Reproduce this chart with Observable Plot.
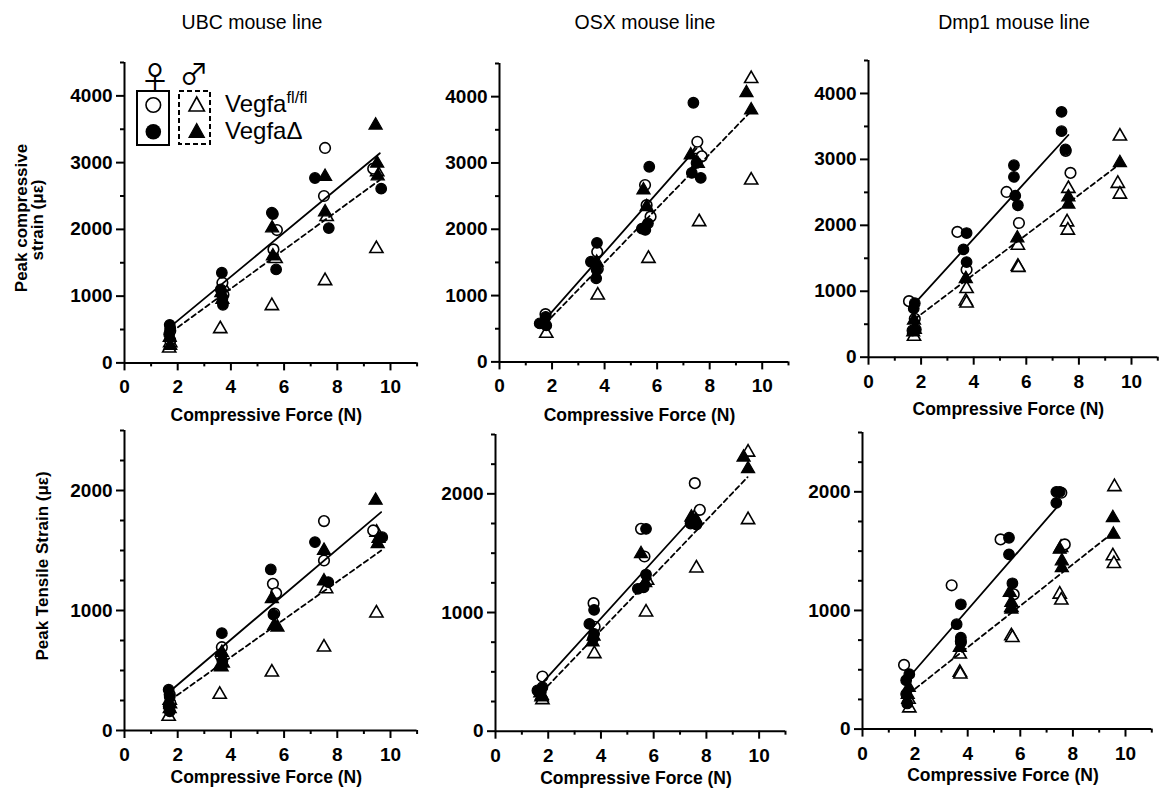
<!DOCTYPE html>
<html><head><meta charset="utf-8">
<script src="https://cdn.jsdelivr.net/npm/d3@7"></script>
<script src="https://cdn.jsdelivr.net/npm/@observablehq/plot@0.6"></script>
<style>
html,body{margin:0;padding:0;background:#fff;overflow:hidden}
#wrap{position:relative;width:1161px;height:796px;font-family:"Liberation Sans",Arial,sans-serif}
#wrap svg.pnl{position:absolute}
#overlay{position:absolute;left:0;top:0}
</style></head><body><div id="wrap"></div>
<script>
// ---------- tick labels ----------
const xTicks = [0, 2, 4, 6, 8, 10];
const xMinor = [1, 3, 5, 7, 9, 11];
const compTicks = [0, 1000, 2000, 3000, 4000];
const compMinor = [500, 1500, 2500, 3500, 4500];
const tensTicks = [0, 1000, 2000];
const tensMinor = [250, 500, 750, 1250, 1500, 1750, 2250, 2500];
const titles = ["UBC mouse line", "OSX mouse line", "Dmp1 mouse line"];

// ---------- UBC compressive ----------
const ubcCompFFl = [[1.72,480],[1.72,340],[3.68,1200],[3.72,1020],[5.73,1990],[5.6,1700],[7.54,3220],[7.5,2500],[9.35,2910]];
const ubcCompFD = [[1.7,570],[1.72,520],[1.68,430],[3.66,1350],[3.62,1100],[3.7,870],[3.68,960],[5.54,2250],[5.58,2230],[5.7,1400],[7.16,2770],[7.68,2020],[9.65,2610]];
const ubcCompMFl = [[1.68,220],[1.72,300],[3.6,510],[3.7,1150],[5.54,855],[5.68,1560],[7.6,2190],[7.54,1230],[9.5,2860],[9.47,1710]];
const ubcCompMD = [[1.7,380],[1.72,260],[3.68,950],[3.64,1050],[5.55,2020],[5.58,1600],[7.54,2790],[7.54,2260],[9.44,3560],[9.5,2990],[9.52,2800]];
const ubcCompFitF = [[1.75,550],[9.6,3140]];
const ubcCompFitM = [[1.75,460],[9.6,2740]];

// ---------- OSX compressive ----------
const osxCompFFl = [[1.75,720],[3.72,1660],[3.74,1400],[5.54,2667],[5.6,2364],[5.75,2190],[7.53,3320],[7.7,3100]];
const osxCompFD = [[1.76,680],[1.53,580],[1.78,550],[3.71,1795],[3.48,1510],[3.7,1385],[3.68,1260],[5.7,2943],[5.42,2010],[5.55,1990],[5.65,2090],[7.38,3908],[7.32,2850],[7.66,2775],[7.5,3000]];
const osxCompMFl = [[1.78,428],[3.74,1006],[5.67,1559],[7.6,2112],[7.55,3200],[9.58,4270],[9.58,2740]];
const osxCompMD = [[1.7,600],[3.7,1500],[5.48,2590],[5.6,2340],[7.28,3118],[7.55,2990],[9.4,4057],[9.58,3796]];
const osxCompFitF = [[1.75,645],[7.5,3220]];
const osxCompFitM = [[1.75,580],[9.55,3770]];

// ---------- Dmp1 compressive ----------
const dmpCompFFl = [[1.54,850],[1.76,582],[3.38,1900],[3.73,1326],[5.25,2506],[5.72,2035],[7.5,3130],[7.68,2795]];
const dmpCompFD = [[1.76,820],[1.72,740],[1.67,405],[1.8,420],[3.73,1883],[3.61,1635],[3.73,1443],[5.53,2911],[5.53,2734],[5.68,2304],[5.58,2450],[7.34,3721],[7.34,3428],[7.49,3150]];
const dmpCompMFl = [[1.73,314],[1.75,420],[3.73,1038],[3.7,850],[3.73,820],[5.68,1696],[5.68,1377],[5.7,1360],[7.6,2557],[7.55,2050],[7.58,1924],[9.56,3352],[9.48,2633],[9.56,2471]];
const dmpCompMD = [[1.73,560],[1.7,380],[3.7,1190],[5.66,1807],[7.6,2430],[7.6,2319],[9.56,2947]];
const dmpCompFitF = [[1.75,813],[7.6,3370]];
const dmpCompFitM = [[1.75,575],[9.58,2937]];

// ---------- UBC tensile ----------
const ubcTensFFl = [[1.7,300],[1.72,230],[3.66,694],[3.62,620],[5.58,1222],[5.7,1145],[5.63,975],[7.5,1745],[7.5,1417],[9.35,1667]];
const ubcTensFD = [[1.66,340],[1.7,280],[1.66,200],[1.7,160],[3.66,811],[3.68,580],[5.5,1342],[5.6,965],[7.16,1570],[7.66,1236],[9.69,1611]];
const ubcTensMFl = [[1.66,117],[1.7,250],[3.58,300],[3.64,530],[5.54,486],[7.58,1180],[7.5,694],[9.47,978],[9.48,1650]];
const ubcTensMD = [[1.7,180],[1.72,220],[3.66,650],[3.6,540],[3.7,560],[5.54,1097],[5.63,875],[5.75,860],[7.5,1500],[7.5,1245],[9.44,1917],[9.52,1556],[9.55,1600]];
const ubcTensFitF = [[1.7,325],[9.65,1820]];
const ubcTensFitM = [[1.7,250],[9.65,1500]];

// ---------- OSX tensile ----------
const osxTensFFl = [[1.78,461],[3.72,1079],[3.76,880],[5.52,1705],[5.65,1472],[7.56,2090],[7.75,1865]];
const osxTensFD = [[1.59,343],[1.78,371],[1.72,330],[3.74,1022],[3.56,904],[3.74,820],[3.7,780],[5.71,1705],[5.71,1320],[5.4,1200],[5.62,1213],[7.4,1750],[7.62,1742],[7.55,1760]];
const osxTensMFl = [[1.78,264],[1.75,290],[3.75,652],[5.71,1003],[5.75,1270],[7.62,1374],[7.55,1800],[9.58,2350],[9.58,1781]];
const osxTensMD = [[1.76,300],[1.7,320],[3.68,750],[3.72,800],[5.52,1494],[5.68,1250],[7.43,1803],[7.6,1781],[9.41,2308],[9.58,2211]];
const osxTensFitF = [[1.75,400],[7.6,1830]];
const osxTensFitM = [[1.75,327],[9.56,2140]];

// ---------- Dmp1 tensile ----------
const dmpTensFFl = [[1.58,541],[3.39,1212],[3.74,740],[5.25,1599],[5.75,1136],[7.56,1992],[7.69,1557]];
const dmpTensFD = [[1.78,463],[1.66,412],[1.66,295],[1.7,216],[3.74,1052],[3.58,884],[3.74,771],[3.74,729],[5.57,1613],[5.57,1473],[5.7,1229],[7.37,2000],[7.5,2000],[7.37,1907]];
const dmpTensMFl = [[1.78,177],[1.75,250],[3.7,631],[3.7,477],[3.72,463],[5.66,1024],[5.66,785],[5.7,771],[7.5,1136],[7.56,1086],[7.55,1530],[9.58,2042],[9.52,1459],[9.56,1394]];
const dmpTensMD = [[1.76,350],[1.72,290],[3.7,687],[5.6,1150],[5.66,1066],[5.66,1010],[7.5,1515],[7.58,1417],[7.58,1360],[9.52,1781],[9.54,1641]];
const dmpTensFitF = [[1.75,433],[7.55,1910]];
const dmpTensFitM = [[1.75,296],[9.52,1655]];

// ---------- layout ----------
const ML = 62, MR = 6, MT = 8, MB = 40;
const panels = [
  {L:124, R:416.6, T:62.3, B:362.7, ymax:4500, yT:compTicks, yM:compMinor, ffl:ubcCompFFl, fd:ubcCompFD, mfl:ubcCompMFl, md:ubcCompMD, fitF:ubcCompFitF, fitM:ubcCompFitM, xt:421},
  {L:499, R:788, T:63.3, B:361.7, ymax:4500, yT:compTicks, yM:compMinor, ffl:osxCompFFl, fd:osxCompFD, mfl:osxCompMFl, md:osxCompMD, fitF:osxCompFitF, fitM:osxCompFitM, xt:421},
  {L:867.7, R:1157, T:60, B:356.7, ymax:4500, yT:compTicks, yM:compMinor, ffl:dmpCompFFl, fd:dmpCompFD, mfl:dmpCompMFl, md:dmpCompMD, fitF:dmpCompFitF, fitM:dmpCompFitM, xt:415},
  {L:124, R:416.6, T:430, B:730, ymax:2500, yT:tensTicks, yM:tensMinor, ffl:ubcTensFFl, fd:ubcTensFD, mfl:ubcTensMFl, md:ubcTensMD, fitF:ubcTensFitF, fitM:ubcTensFitM, xt:783},
  {L:495, R:785, T:434, B:730.7, ymax:2500, yT:tensTicks, yM:tensMinor, ffl:osxTensFFl, fd:osxTensFD, mfl:osxTensMFl, md:osxTensMD, fitF:osxTensFitF, fitM:osxTensFitM, xt:783.5},
  {L:862.3, R:1151.6, T:431.7, B:728.3, ymax:2500, yT:tensTicks, yM:tensMinor, ffl:dmpTensFFl, fd:dmpTensFD, mfl:dmpTensMFl, md:dmpTensMD, fitF:dmpTensFitF, fitM:dmpTensFitM, xt:781}
];

const wrap = document.getElementById("wrap");
const px = d => d[0], py = d => d[1];

panels.forEach(c => {
  const W = (c.R - c.L) + ML + MR, H = (c.B - c.T) + MT + MB;
  const svg = Plot.plot({
    width: W, height: H,
    marginLeft: ML, marginRight: MR, marginTop: MT, marginBottom: MB,
    x: {domain: [0, 11]},
    y: {domain: [0, c.ymax]},
    style: {fontFamily: "Liberation Sans, Arial, sans-serif", fontSize: "19px", fontWeight: "bold", color: "black", background: "transparent", overflow: "visible"},
    marks: [
      Plot.axisX({ticks: xTicks, tickSize: 8, tickPadding: 9, strokeWidth: 2, label: null, tickFormat: d => String(d)}),
      Plot.axisX({ticks: xMinor, tickSize: 4, strokeWidth: 2, label: null, tickFormat: () => ""}),
      Plot.axisY({ticks: c.yT, tickSize: 8, tickPadding: 4, strokeWidth: 2, label: null, tickFormat: d => String(d)}),
      Plot.axisY({ticks: c.yM, tickSize: 4, strokeWidth: 2, label: null, tickFormat: () => ""}),
      Plot.ruleY([0], {strokeWidth: 2}),
      Plot.ruleX([0], {strokeWidth: 2}),
      Plot.dot(c.mfl, {x: px, y: py, symbol: "triangle", r: 4.9, fill: "white", stroke: "black", strokeWidth: 1.6}),
      Plot.dot(c.ffl, {x: px, y: py, symbol: "circle", r: 5.3, fill: "white", stroke: "black", strokeWidth: 1.6}),
      Plot.dot(c.md, {x: px, y: py, symbol: "triangle", r: 4.9, fill: "black", stroke: "black", strokeWidth: 1.2}),
      Plot.dot(c.fd, {x: px, y: py, symbol: "circle", r: 5.3, fill: "black", stroke: "black", strokeWidth: 1.2}),
      Plot.line(c.fitF, {x: px, y: py, stroke: "black", strokeWidth: 1.8}),
      Plot.line(c.fitM, {x: px, y: py, stroke: "black", strokeWidth: 1.8, strokeDasharray: "5,3.5"})
    ]
  });
  svg.classList.add("pnl");
  svg.style.left = (c.L - ML) + "px";
  svg.style.top = (c.T - MT) + "px";
  wrap.appendChild(svg);
});

// ---------- overlay: titles, axis labels, legend ----------
const NS = "http://www.w3.org/2000/svg";
const ov = document.createElementNS(NS, "svg");
ov.setAttribute("id", "overlay");
ov.setAttribute("width", 1161);
ov.setAttribute("height", 796);
ov.style.fontFamily = "Liberation Sans, Arial, sans-serif";
wrap.appendChild(ov);
function el(tag, attrs, text) {
  const e = document.createElementNS(NS, tag);
  for (const k in attrs) e.setAttribute(k, attrs[k]);
  if (text != null) e.textContent = text;
  ov.appendChild(e);
  return e;
}
const titleX = [252, 645, 1014];
titles.forEach((t, i) => el("text", {x: titleX[i], y: 28.5, "text-anchor": "middle", "font-size": 19.5}, t));
panels.forEach(c => {
  el("text", {x: (c.L + c.R) / 2 - 4, y: c.xt, "text-anchor": "middle", "font-size": 17.5, "font-weight": "bold"}, "Compressive Force (N)");
});
el("text", {transform: "translate(27,218) rotate(-90)", "text-anchor": "middle", "font-size": 17, "font-weight": "bold"}, "Peak compressive");
el("text", {transform: "translate(43,220) rotate(-90)", "text-anchor": "middle", "font-size": 17, "font-weight": "bold"}, "strain (με)");
el("text", {transform: "translate(48,566) rotate(-90)", "text-anchor": "middle", "font-size": 17, "font-weight": "bold"}, "Peak Tensile Strain (με)");

// legend
el("text", {x: 155, y: 88, "text-anchor": "middle", "font-size": 30, "font-family": "Noto Sans CJK JP"}, "♀");
el("text", {x: 194, y: 85, "text-anchor": "middle", "font-size": 29, "font-family": "Noto Sans CJK JP"}, "♂");
el("rect", {x: 137, y: 91, width: 32, height: 54, fill: "none", stroke: "black", "stroke-width": 2});
el("rect", {x: 179, y: 91, width: 31, height: 53, fill: "none", stroke: "black", "stroke-width": 2, "stroke-dasharray": "5,3"});
el("circle", {cx: 153.3, cy: 105, r: 7.3, fill: "white", stroke: "black", "stroke-width": 1.6});
el("circle", {cx: 153.3, cy: 131.7, r: 7.8, fill: "black"});
el("path", {d: "M196.7,97 L204.4,111 L189,111 Z", fill: "white", stroke: "black", "stroke-width": 1.6});
el("path", {d: "M196.7,123.5 L204.4,137.5 L189,137.5 Z", fill: "black", stroke: "black", "stroke-width": 1.2});
const t1 = el("text", {x: 225, y: 112, "font-size": 24});
t1.appendChild(document.createTextNode("Vegfa"));
const sup = document.createElementNS(NS, "tspan");
sup.setAttribute("font-size", 16.5); sup.setAttribute("dy", -9);
sup.textContent = "fl/fl";
t1.appendChild(sup);
el("text", {x: 225, y: 138.5, "font-size": 24}, "VegfaΔ");
</script></body></html>
